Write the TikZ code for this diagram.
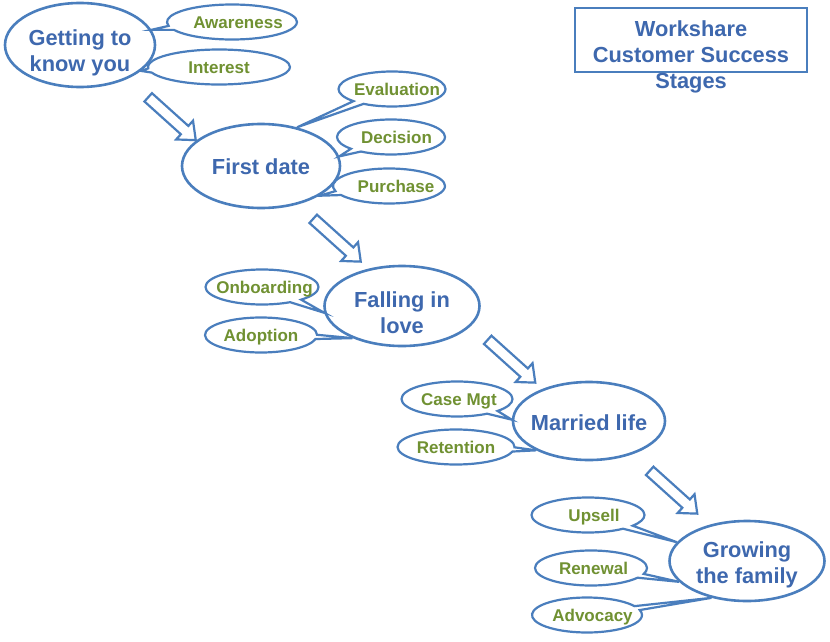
\documentclass[tikz,border=0pt]{standalone}
\usepackage{fontspec}
\setmainfont{Liberation Sans}
\usetikzlibrary{shapes.geometric, shapes.callouts, shapes.arrows}

\definecolor{lineblue}{RGB}{74,126,189}
\definecolor{textblue}{RGB}{62,104,174}
\definecolor{textgreen}{RGB}{112,145,50}

% text sits on a zero box, first baseline lowered by #1
\newcommand{\ctext}[2][6.2pt]{\raisebox{-#1}[0pt][0pt]{\makebox[0pt]{\begin{tabular}[t]{@{}c@{}}#2\end{tabular}}}}

\begin{document}
\begin{tikzpicture}[
    x=1pt, y=-1pt,
    stage/.style={ellipse, draw=lineblue, line width=2.6pt, inner sep=0pt,
                  text=textblue, font=\fontsize{21.8}{25.5}\selectfont\bfseries},
    bubble/.style={ellipse callout, draw=lineblue, line width=2.2pt, inner sep=0pt,
                   minimum height=35pt, callout pointer arc=14,
                   text=textgreen, font=\fontsize{17}{20}\selectfont\bfseries},
    blockarr/.style={single arrow, draw=lineblue, line width=2.2pt, inner sep=0pt,
                     inner ysep=4.5pt, minimum height=64pt, single arrow head extend=7pt,
                     single arrow tip angle=80, rotate=-42},
]
\fill[white] (0,0) rectangle (830,642);
\useasboundingbox (0,0) rectangle (830,642);

% Stages
\node[stage, minimum width=150pt, minimum height=84pt] (know) at (80,45) {\ctext[0.8pt]{Getting to\\know you}};
\node[stage, minimum width=158pt, minimum height=84pt] (date) at (261,166) {\ctext[8.8pt]{First date}};
\node[stage, minimum width=155pt, minimum height=80pt] (love) at (402,306) {\ctext[1.8pt]{Falling in\\love}};
\node[stage, minimum width=152pt, minimum height=78pt] (married) at (589,421) {\ctext[9.8pt]{Married life}};
\node[stage, minimum width=155pt, minimum height=80pt] (family) at (747,561) {\ctext[-3.2pt]{Growing\\the family}};

% Bubbles (hspace nudges the word right)
\node[bubble, minimum width=130pt, callout absolute pointer={(know.12)}] (aware) at (232,22) {\ctext{\hspace{12pt}Awareness}};
\node[bubble, minimum width=142pt, callout absolute pointer={(know.-23)}] (interest) at (219,67) {\ctext{Interest}};
\node[bubble, minimum width=107pt, callout absolute pointer={(date.47)}] (eval) at (392,89) {\ctext{\hspace{10pt}Evaluation}};
\node[bubble, minimum width=108pt, callout absolute pointer={(date.7)}] (decision) at (391,137) {\ctext{\hspace{11pt}Decision}};
\node[bubble, minimum width=112pt, callout absolute pointer={(date.-27)}] (purchase) at (389,186) {\ctext{\hspace{14pt}Purchase}};
\node[bubble, minimum width=113pt, callout absolute pointer={(love.185)}] (onboard) at (262,287) {\ctext{\hspace{5pt}Onboarding}};
\node[bubble, minimum width=112pt, callout absolute pointer={(love.213)}] (adopt) at (261,335) {\ctext{Adoption\hspace{5pt}}};
\node[bubble, minimum width=111pt, callout absolute pointer={(married.179)}] (casemgt) at (457,399) {\ctext{\hspace{4pt}Case Mgt}};
\node[bubble, minimum width=117pt, callout absolute pointer={(married.209)}] (retain) at (456,447) {\ctext{Retention}};
\node[bubble, minimum width=113pt, callout absolute pointer={(family.165)}] (upsell) at (588,515) {\ctext{\hspace{12pt}Upsell}};
\node[bubble, minimum width=112pt, callout absolute pointer={(family.197)}] (renew) at (591,568) {\ctext{\hspace{5pt}Renewal}};
\node[bubble, minimum width=110pt, callout absolute pointer={(family.226)}] (advocacy) at (587,615) {\ctext{\hspace{11pt}Advocacy}};

% Flow arrows
\node[blockarr] (flow1) at (169.5,116.5) {};
\node[blockarr] (flow2) at (334.5,238) {};
\node[blockarr] (flow3) at (509,359) {};
\node[blockarr] (flow4) at (671,490) {};

% Title
\node[draw=lineblue, line width=2.2pt, minimum width=232pt, minimum height=64pt, inner sep=0pt] (titlebox) at (691,40) {};
\node[text=textblue, font=\fontsize{21.8}{26}\selectfont\bfseries, align=center] (title) at (691,57) {Workshare\\Customer Success\\Stages};

\end{tikzpicture}
\end{document}
